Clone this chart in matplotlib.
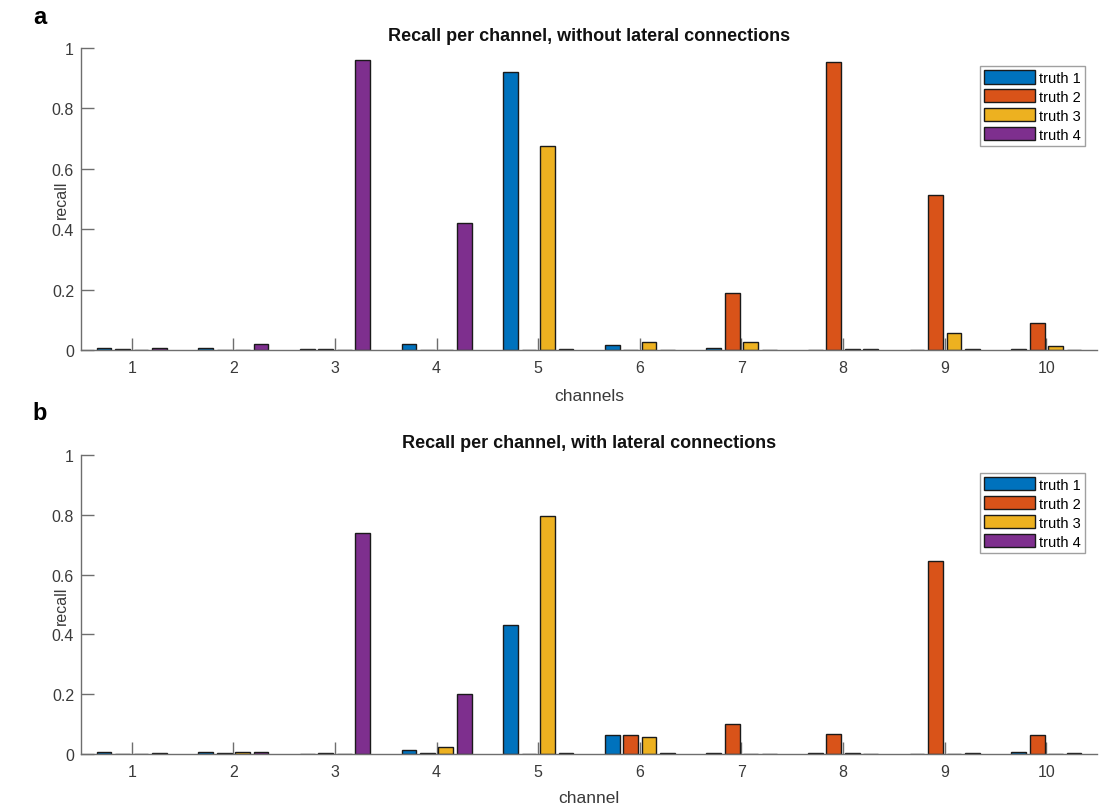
import numpy as np
import matplotlib.pyplot as plt

plt.rcParams['font.family'] = ['Liberation Sans', 'DejaVu Sans']

channels = np.arange(1, 11)
series_names = ['truth 1', 'truth 2', 'truth 3', 'truth 4']
colors = ['#0072BD', '#D95319', '#EDB120', '#7E2F8E']

# panel a: without lateral connections
recall_a_t1 = [0.007, 0.007, 0.003, 0.020, 0.920, 0.017, 0.006, 0.0, 0.0, 0.003]
recall_a_t2 = [0.004, 0.0, 0.003, 0.0, 0.0, 0.0, 0.188, 0.955, 0.513, 0.090]
recall_a_t3 = [0.0, 0.0, 0.0, 0.0, 0.675, 0.028, 0.025, 0.003, 0.055, 0.014]
recall_a_t4 = [0.007, 0.020, 0.960, 0.420, 0.003, 0.0, 0.0, 0.003, 0.003, 0.0]

# panel b: with lateral connections
recall_b_t1 = [0.006, 0.006, 0.0, 0.014, 0.433, 0.062, 0.003, 0.003, 0.0, 0.006]
recall_b_t2 = [0.0, 0.003, 0.003, 0.003, 0.0, 0.065, 0.100, 0.068, 0.645, 0.065]
recall_b_t3 = [0.0, 0.006, 0.0, 0.025, 0.795, 0.058, 0.0, 0.003, 0.0, 0.0]
recall_b_t4 = [0.003, 0.006, 0.740, 0.200, 0.003, 0.003, 0.0, 0.0, 0.003, 0.003]

axis_gray = '#6e6e6e'
text_gray = '#3a3a3a'


def grouped_bars(ax, data, title, xlabel, xlab_y):
    n = len(data)
    group_w = min(0.8, n / (n + 1.5))
    step = group_w / n
    for i, vals in enumerate(data):
        offs = (i - (n - 1) / 2) * step
        ax.bar(channels + offs, vals, width=step * 0.8, color=colors[i],
               edgecolor='#1a1a1a', linewidth=1.0, label=series_names[i], zorder=2)
    ax.set_xlim(0.5, 10.5)
    ax.set_ylim(0, 1)
    ax.set_xticks(channels)
    ax.set_yticks([0, 0.2, 0.4, 0.6, 0.8, 1])
    ax.set_yticklabels(['0', '0.2', '0.4', '0.6', '0.8', '1'])
    for s in ['top', 'right']:
        ax.spines[s].set_visible(False)
    for s in ['left', 'bottom']:
        ax.spines[s].set_color(axis_gray)
        ax.spines[s].set_linewidth(1.0)
        ax.spines[s].set_zorder(3)
    ax.tick_params(direction='in', length=9, width=1.0, color=axis_gray,
                   labelcolor=text_gray, labelsize=11.5)
    ax.tick_params(axis='y', pad=5)
    ax.tick_params(axis='x', pad=7)
    ax.set_title(title, fontsize=13, fontweight='bold', color='#111111', pad=6)
    ax.set_xlabel(xlabel, fontsize=12.5, color=text_gray)
    ax.xaxis.set_label_coords(0.5, xlab_y)
    ax.set_ylabel('recall', fontsize=11.5, color=text_gray, va='center')
    ax.yaxis.set_label_coords(-0.019, 0.5)
    leg = ax.legend(loc='upper right', bbox_to_anchor=(0.988, 0.94), fontsize=10.5,
                    frameon=True, fancybox=False, handlelength=3.5, handleheight=1.0,
                    handletextpad=0.25, borderpad=0.3, labelspacing=0.3,
                    borderaxespad=0.0)
    leg.get_frame().set_edgecolor('#888888')
    leg.get_frame().set_linewidth(1.0)
    for h in leg.legend_handles:
        h.set_linewidth(1.0)


fig = plt.figure(figsize=(11.15, 8.12), dpi=100)
ax_a = fig.add_axes([0.0726, 0.5677, 0.9114, 0.372])
ax_b = fig.add_axes([0.0726, 0.0702, 0.9114, 0.3682])

grouped_bars(ax_a, [recall_a_t1, recall_a_t2, recall_a_t3, recall_a_t4],
             'Recall per channel, without lateral connections', 'channels', -0.125)
grouped_bars(ax_b, [recall_b_t1, recall_b_t2, recall_b_t3, recall_b_t4],
             'Recall per channel, with lateral connections', 'channel', -0.122)

fig.text(0.036, 0.978, 'a', fontsize=17, fontweight='bold', va='center', ha='center')
fig.text(0.036, 0.491, 'b', fontsize=17, fontweight='bold', va='center', ha='center')

fig.savefig('out.png', dpi=100)
